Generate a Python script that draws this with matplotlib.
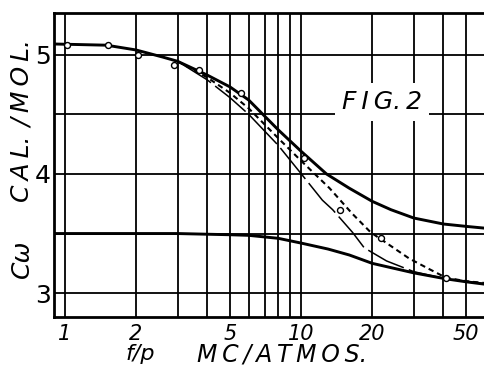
import numpy as np
import matplotlib.pyplot as plt

# upper solid curve
x_up = [0.9, 1.5, 2, 2.6, 3, 4, 5, 6, 8, 10, 12.8, 16, 20, 24, 30, 40, 50, 60]
y_up = [5.09, 5.08, 5.04, 4.98, 4.945, 4.83, 4.73, 4.62, 4.37, 4.19, 4.0, 3.88, 3.77, 3.70, 3.63, 3.58, 3.56, 3.545]

# lower solid curve
x_lo = [0.9, 2, 3, 5, 6, 8, 10, 13, 16, 20, 30, 41, 50, 60]
y_lo = [3.5, 3.5, 3.5, 3.49, 3.485, 3.46, 3.42, 3.37, 3.32, 3.25, 3.17, 3.12, 3.095, 3.075]

# dashed curve
x_da = [3, 4, 5, 6, 8, 10, 13.2, 16.4, 19.7, 23, 28.7, 35, 41, 50, 60]
y_da = [4.945, 4.81, 4.68, 4.55, 4.30, 4.11, 3.88, 3.67, 3.51, 3.42, 3.29, 3.20, 3.13, 3.10, 3.085]

# thin long-dash curve
x_th = [3, 4, 5, 6, 8, 10.5, 12.3, 13.6, 16.5, 18.5, 23, 30, 40, 50, 60]
y_th = [4.945, 4.79, 4.64, 4.50, 4.24, 3.95, 3.78, 3.70, 3.51, 3.38, 3.27, 3.18, 3.125, 3.10, 3.08]

# measured points
x_pts = [1.02, 1.53, 2.05, 2.89, 3.69, 5.54, 10.3, 14.6, 21.7, 41]
y_pts = [5.08, 5.08, 5.0, 4.91, 4.87, 4.68, 4.13, 3.70, 3.46, 3.13]

xgrid = [1, 2, 3, 4, 5, 6, 7, 8, 9, 10, 20, 30, 40, 50, 60]
ygrid = [3, 3.5, 4, 4.5, 5]
xticks = [1, 2, 5, 10, 20, 50]
xlabels = ['1', '2', '5', '10', '20', '50']
yticks = [3, 4, 5]

fig = plt.figure(figsize=(4.85, 3.67), dpi=100)
ax = fig.add_axes([54/485, 50/367, 431/485, 304/367])
ax.set_xscale('log')
ax.set_xlim(0.9, 60)
ax.set_ylim(2.8, 5.35)

for g in xgrid:
    ax.axvline(g, color='black', lw=1.3, zorder=1)
for g in ygrid:
    ax.axhline(g, color='black', lw=1.3, zorder=1)

ax.plot(x_up, y_up, color='black', lw=2.1, zorder=3)
ax.plot(x_lo, y_lo, color='black', lw=2.1, zorder=3)
ax.plot(x_da, y_da, color='black', lw=1.5, ls=(0, (2.6, 1.9)), zorder=3)
ax.plot(x_th, y_th, color='black', lw=1.1, ls=(0, (26, 3.5)), zorder=3)
ax.plot(x_pts, y_pts, 'o', mfc='white', mec='black', ms=4.3, mew=1.0, zorder=4)

ax.text(21.9, 4.5, 'F\u2009I\u2009G.\u20092', fontsize=18, style='italic',
        ha='center', va='bottom', zorder=5,
        bbox=dict(facecolor='white', edgecolor='none', pad=5))

ax.minorticks_off()
ax.set_xticks(xticks)
ax.set_xticklabels(xlabels, fontsize=15, style='italic')
ax.set_yticks(yticks)
ax.set_yticklabels([str(v) for v in yticks], fontsize=18)
ax.tick_params(length=0)
ax.tick_params(axis='x', pad=5)
ax.tick_params(axis='y', pad=2)
for s in ax.spines.values():
    s.set_linewidth(2)

fig.text(0.289, 0.035, 'f/p', fontsize=16, style='italic', ha='center', va='center')
fig.text(0.406, 0.035, 'M\u2009C\u2009/\u2009A\u2009T\u2009M\u2009O\u2009S.', fontsize=17,
         style='italic', ha='left', va='center')
fig.text(0.045, 1 - 121/367, 'C\u2009A\u2009L.\u2009\u2009/\u2009M\u2009O\u2009L.', fontsize=18,
         style='italic', rotation=90, ha='center', va='center')
fig.text(0.045, 1 - 259/367, 'Cω', fontsize=18, style='italic', rotation=90,
         ha='center', va='center')

fig.savefig('out.png', dpi=100)
